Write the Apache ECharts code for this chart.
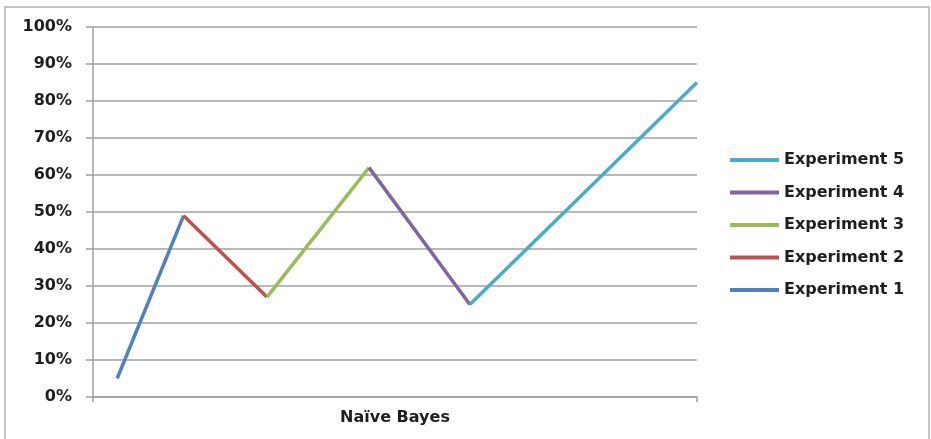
<!DOCTYPE html>
<html>
<head>
<meta charset="utf-8">
<script src="https://cdn.jsdelivr.net/npm/echarts@6/dist/echarts.min.js"></script>
<style>
html,body{margin:0;padding:0;background:#fff;}
#chart{width:931px;height:439px;}
</style>
</head>
<body>
<div id="chart"></div>
<script>
// Data
const categories = ['Naïve Bayes'];
const seriesNames = ['Experiment 1', 'Experiment 2', 'Experiment 3', 'Experiment 4', 'Experiment 5'];
// x positions (0-100 along the category band) and values of the joined points
const xPoints = [4, 15, 28.8, 45.7, 62.4, 100];
const yValues = [0.05, 0.49, 0.27, 0.62, 0.25, 0.85];
const yTicks = [0, 0.1, 0.2, 0.3, 0.4, 0.5, 0.6, 0.7, 0.8, 0.9, 1.0];

const colors = ['#4F81BD', '#C0504D', '#9BBB59', '#8064A2', '#4BACC6'];
const font = '"DejaVu Sans", sans-serif';
const textColor = '#1e1e1e';

const chart = echarts.init(document.getElementById('chart'), null, {renderer: 'canvas'});

const series = seriesNames.map((name, i) => ({
  name: name,
  type: 'line',
  xAxisIndex: 1,
  yAxisIndex: 0,
  showSymbol: false,
  symbol: 'none',
  silent: true,
  data: [[xPoints[i], yValues[i]], [xPoints[i + 1], yValues[i + 1]]],
  lineStyle: {color: colors[i], width: 3.5},
  itemStyle: {color: colors[i]},
  z: 3
}));

chart.setOption({
  animation: false,
  color: colors,
  graphic: [{
    type: 'rect',
    shape: {x: 5, y: 7, width: 924, height: 460},
    style: {fill: 'none', stroke: '#c4c4c4', lineWidth: 2},
    silent: true, z: 0
  }],
  grid: {left: 93, right: 234, top: 27, bottom: 42, containLabel: false},
  legend: {
    orient: 'vertical',
    left: 730,
    top: 150,
    padding: 0,
    data: seriesNames.slice().reverse(),
    icon: 'rect',
    itemWidth: 49,
    itemHeight: 4,
    itemGap: 12.5,
    textStyle: {fontFamily: font, fontSize: 16, fontWeight: 'bold', color: textColor, lineHeight: 20},
    selectedMode: false
  },
  xAxis: [{
    type: 'category',
    data: categories,
    boundaryGap: true,
    axisLine: {show: true, lineStyle: {color: '#a0a0a0', width: 1.5}},
    axisTick: {show: true, length: 5, lineStyle: {color: '#a0a0a0', width: 1.5}},
    axisLabel: {fontFamily: font, fontSize: 16, fontWeight: 'bold', color: textColor, margin: 13},
    splitLine: {show: false}
  }, {
    type: 'value',
    min: 0,
    max: 100,
    show: false
  }],
  yAxis: [{
    type: 'value',
    min: yTicks[0],
    max: yTicks[yTicks.length - 1],
    interval: 0.1,
    axisLine: {show: true, lineStyle: {color: '#a0a0a0', width: 1.5}},
    axisTick: {show: true, length: 7, lineStyle: {color: '#a0a0a0', width: 1.5}},
    axisLabel: {
      fontFamily: font, fontSize: 16, fontWeight: 'bold', color: textColor, margin: 21,
      formatter: v => Math.round(v * 100) + '%'
    },
    splitLine: {show: true, lineStyle: {color: '#a0a0a0', width: 1.5}}
  }],
  series: series
});
</script>
</body>
</html>
